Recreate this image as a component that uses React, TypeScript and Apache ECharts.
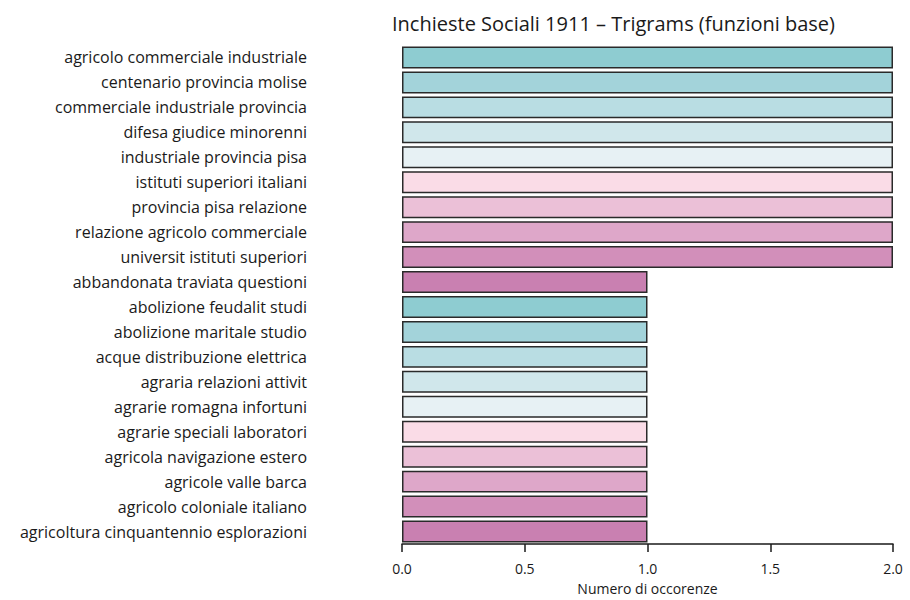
import React, { useEffect, useRef } from "react";
import * as echarts from "echarts";

const categories = [
  "agricolo commerciale industriale",
  "centenario provincia molise",
  "commerciale industriale provincia",
  "difesa giudice minorenni",
  "industriale provincia pisa",
  "istituti superiori italiani",
  "provincia pisa relazione",
  "relazione agricolo commerciale",
  "universit istituti superiori",
  "abbandonata traviata questioni",
  "abolizione feudalit studi",
  "abolizione maritale studio",
  "acque distribuzione elettrica",
  "agraria relazioni attivit",
  "agrarie romagna infortuni",
  "agrarie speciali laboratori",
  "agricola navigazione estero",
  "agricole valle barca",
  "agricolo coloniale italiano",
  "agricoltura cinquantennio esplorazioni",
];

const values = [2, 2, 2, 2, 2, 2, 2, 2, 2, 1, 1, 1, 1, 1, 1, 1, 1, 1, 1, 1];

const palette = [
  "#8ECCD1",
  "#A3D3DA",
  "#B9DDE3",
  "#D0E7EB",
  "#E7F1F4",
  "#FADCE7",
  "#EBC0D7",
  "#DEA7C9",
  "#D28FBA",
  "#C980B1",
];

const xTicks = ["0.0", "0.5", "1.0", "1.5", "2.0"];

export default function App() {
  const ref = useRef<HTMLDivElement>(null);
  useEffect(() => {
    if (!ref.current) return;
    const chart = echarts.init(ref.current, null, { renderer: "svg" });
    const font = "'Open Sans', 'Noto Sans', sans-serif";
    chart.setOption({
      animation: false,
      backgroundColor: "#ffffff",
      textStyle: { fontFamily: font },
      title: {
        text: "Inchieste Sociali 1911 \u2013 Trigrams (funzioni base)",
        left: 387,
        top: 8,
        textStyle: { fontFamily: font, fontSize: 20, fontWeight: "normal", color: "#1a1a1a" },
      },
      grid: { left: 402, right: 17, top: 45, height: 503, containLabel: false },
      xAxis: {
        type: "value",
        min: 0,
        max: 2,
        interval: 0.5,
        name: "Numero di occorenze",
        nameLocation: "middle",
        nameGap: 37,
        nameTextStyle: { fontFamily: font, fontSize: 14, color: "#1a1a1a" },
        axisLine: { show: true, lineStyle: { color: "#1a1a1a", width: 1.5 } },
        axisTick: { show: true, length: 8, lineStyle: { color: "#1a1a1a", width: 1.5 } },
        axisLabel: {
          fontFamily: font,
          fontSize: 14,
          color: "#1a1a1a",
          margin: 17,
          formatter: (v: number) => xTicks[Math.round(v / 0.5)] ?? String(v),
        },
        splitLine: { show: false },
      },
      yAxis: {
        type: "category",
        inverse: true,
        data: categories,
        axisLine: { show: false },
        axisTick: { show: false },
        axisLabel: {
          fontFamily: font,
          fontSize: 16,
          color: "#1a1a1a",
          margin: 95,
        },
      },
      series: [
        {
          type: "bar",
          data: values.map((v, i) => ({
            value: v,
            itemStyle: { color: palette[i % palette.length] },
          })),
          barCategoryGap: "12%",
          itemStyle: { borderColor: "#2a2a2a", borderWidth: 1.5 },
        },
      ],
    });
    return () => chart.dispose();
  }, []);
  return <div ref={ref} style={{ width: 910, height: 600, position: "absolute", left: 0, top: 0 }} />;
}
